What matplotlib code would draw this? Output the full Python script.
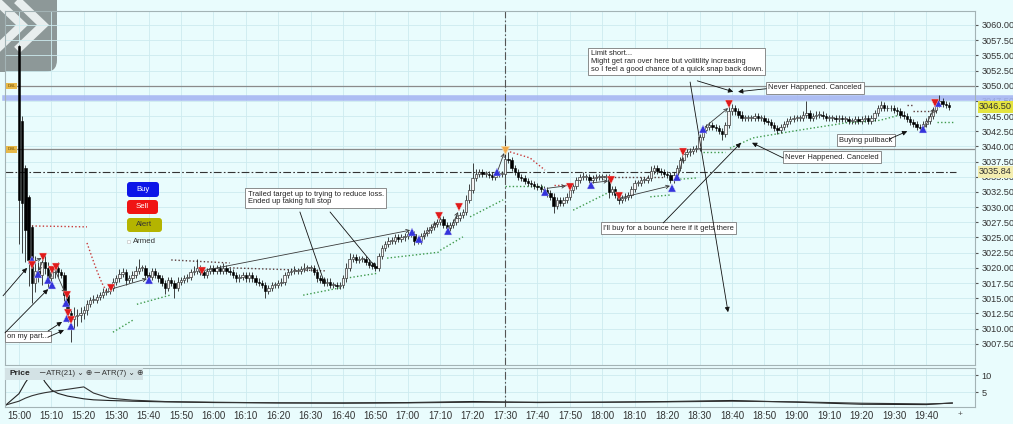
import numpy as np
import matplotlib
matplotlib.use('Agg')
import matplotlib.pyplot as plt
from matplotlib import font_manager
from matplotlib.patches import FancyBboxPatch, Rectangle
from matplotlib.lines import Line2D
import matplotlib.transforms as mtrans

names = {f.name for f in font_manager.fontManager.ttflist}
narrow = 'Liberation Sans Narrow' if 'Liberation Sans Narrow' in names else 'Liberation Sans'
plt.rcParams['font.family'] = [narrow, 'DejaVu Sans']

BG = '#e9fcfd'

# ---- 1 minute bars, 15:00 .. 19:47 (minute index from 15:00) ----
closes = np.array([
    3031.25, 3030.75, 3026.25, 3021.25, 3017.5, 3019.5, 3018.75, 3021.0, 3020.0, 3018.25,
    3019.25, 3020.0, 3019.25, 3018.75, 3015.5, 3012.5, 3011.5, 3012.0, 3012.25, 3012.5,
    3013.0, 3014.0, 3014.75, 3014.75, 3015.25, 3015.5, 3016.0, 3016.25, 3016.75, 3017.75,
    3018.25, 3019.0, 3019.25, 3018.0, 3018.25, 3018.75, 3019.5, 3020.0, 3020.0, 3018.75,
    3018.5, 3019.5, 3018.75, 3018.25, 3017.5, 3016.75, 3018.0, 3017.5, 3016.75, 3017.75,
    3018.0, 3018.25, 3018.5, 3019.25, 3019.5, 3020.0, 3019.25, 3018.75, 3019.5, 3020.0,
    3019.5, 3020.0, 3019.5, 3020.0, 3019.5, 3019.25, 3018.75, 3018.25, 3018.5, 3018.75,
    3018.25, 3018.75, 3018.25, 3017.75, 3017.5, 3017.25, 3016.25, 3016.75, 3017.25, 3017.25,
    3017.5, 3017.75, 3018.75, 3019.25, 3019.5, 3019.5, 3019.5, 3019.75, 3020.0, 3020.0,
    3020.0, 3019.25, 3018.25, 3018.0, 3017.5, 3017.75, 3017.25, 3017.25, 3017.0, 3017.25,
    3018.25, 3020.0, 3021.5, 3021.75, 3021.25, 3021.5, 3021.5, 3021.0, 3020.5, 3020.25,
    3020.0, 3022.0, 3023.25, 3024.0, 3024.5, 3024.5, 3025.0, 3024.75, 3025.0, 3025.25,
    3025.5, 3025.5, 3024.5, 3024.5, 3025.25, 3025.75, 3026.25, 3026.75, 3027.25, 3027.5,
    3028.0, 3027.0, 3026.5, 3027.0, 3027.5, 3028.25, 3028.75, 3029.25, 3031.25, 3032.75,
    3034.75, 3035.5, 3035.75, 3035.5, 3035.5, 3035.25, 3035.0, 3035.5, 3035.5, 3035.5,
    3038.0, 3037.75, 3036.5, 3035.75, 3035.0, 3034.75, 3034.25, 3034.0, 3033.75, 3033.5,
    3033.25, 3033.0, 3032.75, 3032.25, 3031.75, 3030.25, 3031.25, 3030.75, 3031.25, 3031.75,
    3032.75, 3033.5, 3034.5, 3035.0, 3035.0, 3035.0, 3034.5, 3034.75, 3035.0, 3035.0,
    3035.0, 3035.0, 3032.5, 3033.0, 3032.0, 3031.25, 3031.5, 3031.75, 3032.0, 3033.0,
    3034.0, 3034.0, 3034.5, 3034.5, 3034.75, 3036.0, 3036.5, 3036.0, 3035.75, 3035.5,
    3035.25, 3034.5, 3035.25, 3036.5, 3037.75, 3038.75, 3039.0, 3039.25, 3039.5, 3039.75,
    3041.5, 3042.75, 3043.25, 3043.5, 3043.25, 3043.0, 3042.5, 3042.0, 3043.5, 3045.75,
    3046.25, 3045.75, 3045.25, 3044.75, 3044.75, 3044.75, 3044.75, 3045.0, 3044.75, 3044.75,
    3044.25, 3044.0, 3043.5, 3043.0, 3042.75, 3043.25, 3043.75, 3044.25, 3044.5, 3044.75,
    3044.75, 3044.75, 3045.25, 3045.5, 3044.75, 3045.0, 3045.25, 3045.25, 3045.0, 3044.75,
    3044.75, 3044.75, 3044.5, 3044.75, 3044.5, 3044.5, 3044.25, 3044.25, 3044.5, 3044.25,
    3044.5, 3044.75, 3044.25, 3044.75, 3045.5, 3046.25, 3046.75, 3046.25, 3046.25, 3046.25,
    3046.0, 3045.75, 3045.25, 3045.0, 3044.5, 3044.0, 3043.75, 3043.25, 3043.0, 3043.75,
    3044.25, 3045.0, 3046.0, 3047.0, 3047.5, 3047.0, 3046.75, 3046.5,
])
# the first bars of the session open away from the previous close
first_opens = [3056.5, 3044.25, 3036.5, 3031.75, 3026.75]

upper_wick = np.array([
    .25, .75, .5, .25, .25, 2.5, 1.5, 1.0, 1.5, 1.0,
    .75, .75, 1.0, .5, .5, .5, .5, 1.5, 1.0, 1.0,
    .75, .75, .5, .75, .5, .5, .75, .5, .5, .5,
    .5, .75, .75, .5, .5, .75, .75, 1.5, .5, .5,
    .5, .5, .5, .5, .5, .5, .5, .5, .5, .75,
    .5, .5, .5, .5, .75, 1.5, .5, .5, .5, .5,
    .5, .5, .5, .75, .5, .5, .5, .5, .5, .5,
    .5, .5, .5, .5, .5, .5, .5, .5, .5, .5,
    .5, .5, .5, .5, .5, .75, .5, .5, .75, .5,
    .5, .5, .5, .5, .5, .5, .5, .5, .5, .5,
    .5, .75, 1.0, .5, .5, .5, .5, .5, .5, .5,
    .5, .5, .5, .5, .5, .5, .5, .5, .5, .5,
    .5, .5, .5, .5, .5, .5, .5, .5, .5, .5,
    .5, .5, .5, .5, .5, .5, .5, .5, .75, 1.0,
    2.5, .75, .5, .5, .5, .5, .5, .5, .5, .5,
    3.0, 1.0, .5, .5, .5, .5, .5, .5, .5, .5,
    .5, .5, .5, .5, .5, .5, .5, .5, .5, .5,
    .5, .5, .5, .5, .75, .5, .5, .5, .5, .5,
    .5, .5, .5, .5, .5, .5, .5, .5, .5, .5,
    .5, .5, .5, .5, .5, .75, .5, .5, .5, .5,
    .5, .5, .5, .5, .5, .5, .5, .5, .5, .5,
    .5, .5, .5, .5, .5, .5, .5, .5, .5, 1.25,
    .75, .5, .5, .5, .5, .5, .5, .5, .5, .5,
    .5, .5, .5, .5, .5, .5, .5, .5, .5, .5,
    .5, .5, .5, 2.0, .5, .5, .5, .5, .5, .5,
    .5, .5, .5, .5, .5, .5, .5, .5, .5, .5,
    .5, .5, .5, .5, .5, .5, .75, .5, .5, .5,
    .5, .5, .5, .5, .5, .5, .5, .5, .5, .5,
    .5, .5, .5, .5, 1.0, .5, .5, .5,
])
lower_wick = np.array([
    7.25, 8.25, 5.25, 4.25, 3.25, 1.5, 1.0, 1.5, 1.0, 1.5,
    .75, 1.0, .75, .5, 1.0, 1.5, 3.75, 1.5, 1.5, 1.25,
    1.0, .75, .5, .5, .5, .5, .5, .5, .5, .5,
    .5, .5, .5, .75, .5, .5, .5, .5, .5, .5,
    .5, .5, .5, .5, .5, 1.0, .5, .5, 1.75, .5,
    .5, .5, .5, .5, .5, .5, .5, .5, .5, .5,
    .5, .5, .5, .5, .5, .5, .5, .5, .5, .5,
    .5, .5, .5, .5, .5, .5, 1.25, .5, .5, .5,
    .5, .5, .5, .5, .5, .5, .5, .5, .5, .5,
    .5, .5, .5, .5, .5, .5, .5, .5, .5, .5,
    .5, .5, .5, .5, .5, .5, .5, .5, .5, .5,
    .5, .5, .5, .5, .5, .5, .5, .5, .5, .5,
    .5, .5, .75, .5, .5, .5, .5, .5, .5, .5,
    .5, .5, .5, .5, .5, .5, .5, .5, .5, .5,
    .5, .5, .5, .5, .5, .5, .5, .5, .5, .5,
    .5, .5, .5, .5, .5, .5, .5, .5, .5, .5,
    .5, .5, .5, .5, .5, 1.25, .5, .5, .5, .5,
    .5, .5, .5, .5, .5, .5, .5, .5, .5, .5,
    .5, .5, 1.0, .5, .5, .75, .5, .5, .5, .5,
    .5, .5, .5, .5, .5, .5, .5, .5, .5, .5,
    .5, .5, .5, .5, .5, .5, .5, .5, .5, .5,
    .5, .5, .5, .5, .5, .5, .5, 1.0, .5, .5,
    .5, .5, .5, .5, .5, .5, .5, .5, .5, .5,
    .5, .5, .5, .5, .75, .5, .5, .5, .5, .5,
    .5, .5, .5, .5, .5, .5, .5, .5, .5, .5,
    .5, .5, .5, .5, .5, .5, .5, .5, .5, .5,
    .5, .5, .5, .5, .5, .5, .5, .5, .5, .5,
    .5, .5, .5, .5, .5, .5, .5, .5, .5, .5,
    .5, .5, .5, .5, .5, .5, .5, .5,
])

# trade markers (minute, price)
buys = [(4.0, 3021.25), (5.9, 3019.0), (9.0, 3018.0), (10.2, 3017.25), (14.5, 3014.25),
        (14.8, 3011.75), (16.0, 3010.5), (40.1, 3018.0), (121.3, 3025.9), (123.5, 3024.75),
        (132.4, 3026.1), (147.5, 3035.75), (162.3, 3032.5), (176.5, 3033.6), (201.5, 3033.1),
        (203.1, 3035.0), (211.2, 3042.9), (279.0, 3042.9), (283.6, 3047.2)]
sells = [(4.0, 3020.5), (7.4, 3021.8), (10.2, 3019.6), (11.4, 3020.1), (14.8, 3015.5),
         (15.1, 3012.6), (16.0, 3011.4), (28.4, 3016.7), (56.5, 3019.5), (129.6, 3028.5),
         (135.8, 3030.0), (170.1, 3033.3), (182.7, 3034.5), (185.0, 3031.8), (205.0, 3039.1),
         (219.1, 3047.0), (282.7, 3047.2)]
alert_mark = [(150.0, 3039.4)]

trade_links = [((28.4, 3016.5), (39.5, 3018.2)), ((57.4, 3019.6), (120.7, 3026.2)),
               ((124.7, 3025.1), (129.0, 3027.5)), ((133.0, 3026.2), (135.5, 3029.2)),
               ((147.8, 3036.1), (149.7, 3038.9)), ((163.0, 3033.1), (168.8, 3033.5)),
               ((176.9, 3034.0), (181.8, 3034.3)), ((185.5, 3031.5), (200.9, 3033.5)),
               ((203.4, 3035.1), (205.0, 3038.25)), ((211.7, 3043.2), (218.8, 3046.3)),
               ((279.6, 3043.2), (282.4, 3046.3)), ((4.5, 3021.0), (7.0, 3021.6)),
               ((7.5, 3021.3), (6.0, 3019.5)), ((11.0, 3019.8), (14.3, 3015.8)),
               ((9.3, 3017.7), (10.0, 3019.2))]

# stop / target dots
red_stops = [
    [(4, 3026.9), (21, 3026.75)],
    [(21, 3024.1), (22.5, 3021.8), (24, 3019.6), (25.6, 3017.5), (27.2, 3016.0)],
    [(151.5, 3039.1), (157.7, 3038.1), (162.3, 3036.1)],
    [(165, 3033.6), (170, 3033.6)],
]
dark_stops = [
    [(47, 3021.3), (65, 3020.8)],
    [(65, 3020.0), (95, 3019.5)],
    [(176, 3034.9), (199, 3034.9)],
    [(274, 3046.75), (276, 3046.75)],
    [(276, 3045.75), (283, 3045.75)],
]
green_stops = [
    [(29, 3009.4), (35.2, 3011.4)],
    [(36.4, 3014.0), (46.6, 3015.5)],
    [(87.7, 3015.5), (99, 3016.7)],
    [(101, 3018.3), (110.5, 3019.1)],
    [(113.6, 3021.6), (130, 3022.6)],
    [(130, 3022.9), (137, 3025.1)],
    [(139.2, 3028.4), (149.4, 3031.2)],
    [(150, 3033.5), (162, 3033.5)],
    [(171, 3029.5), (181.5, 3032.3)],
    [(194.8, 3031.7), (201, 3032.0)],
    [(204, 3034.6), (209, 3034.8)],
    [(211, 3039.0), (218, 3039.0)],
    [(219.4, 3039.7), (226.5, 3041.4), (241, 3042.7), (255.5, 3043.9), (265.7, 3044.3), (272, 3045.2)],
    [(283.3, 3044.0), (288.3, 3044.0)],
]

# ATR panel
atr_min = [-4, 0, 2, 4, 6, 8, 10, 12, 15, 20, 23, 28, 35, 45, 60, 80, 100, 120, 140,
           160, 180, 200, 220, 240, 260, 280, 288]
atr7 = [1.2, 4.5, 7.8, 10.5, 11.5, 8.0, 5.6, 4.6, 3.8, 3.0, 2.7, 2.5, 2.3, 2.1, 1.9, 1.8,
        1.8, 1.9, 2.2, 1.9, 2.0, 2.2, 2.5, 2.0, 1.4, 1.3, 1.8]
atr21 = [1.2, 2.3, 3.2, 3.9, 4.4, 4.8, 5.1, 5.4, 5.8, 6.5, 4.7, 3.2, 2.6, 2.2, 2.0, 1.8,
         1.7, 1.8, 2.0, 2.0, 2.0, 2.1, 2.3, 2.1, 1.7, 1.5, 1.7]

time_ticks = list(range(0, 281, 10))
time_labels = ['15:00', '15:10', '15:20', '15:30', '15:40', '15:50', '16:00', '16:10', '16:20',
               '16:30', '16:40', '16:50', '17:00', '17:10', '17:20', '17:30', '17:40', '17:50',
               '18:00', '18:10', '18:20', '18:30', '18:40', '18:50', '19:00', '19:10', '19:20',
               '19:30', '19:40']
price_ticks = np.arange(3007.5, 3060.01, 2.5)

line_3050 = 3050.0
line_3040 = 3039.5
blue_band = 3047.9
dashdot_level = 3035.84
last_price = 3046.50
split_time = 150

# ---------------------------------------------------------------------
W, H = 1013, 424
fig = plt.figure(figsize=(W / 100, H / 100), dpi=100, facecolor=BG)
ax = fig.add_axes([5 / W, 1 - 365 / H, 970 / W, 354 / H])
ax2 = fig.add_axes([5 / W, 1 - 407 / H, 970 / W, 39 / H], sharex=ax)
for a in (ax, ax2):
    a.set_facecolor('none')
    for s in a.spines.values():
        s.set_color('#a3b3b5')
        s.set_linewidth(0.8)
    a.grid(True, color='#cdebef', lw=0.6)
    a.set_axisbelow(True)

ax.set_xlim(-4.3, 295)
ax.set_ylim(3004.0, 3062.3)
ax.yaxis.tick_right()
ax.set_yticks(price_ticks)
ax.set_yticklabels(['%.2f' % v for v in price_ticks])
ax.tick_params(axis='y', labelsize=6.6, colors='#555', labelcolor='#333', length=2.5, pad=2)
ax.set_xticks(time_ticks)
ax.tick_params(axis='x', labelbottom=False, length=0)

# top-left toolbar tab (behind the chart)
tab = FancyBboxPatch((-0.3, 3.52), 0.87, 1.0, boxstyle='round,pad=0,rounding_size=0.12',
                     transform=fig.dpi_scale_trans, fc='#8d9898', ec='none', zorder=-2)
fig.patches.append(tab)
for dx in (-0.21, 0.0):
    fig.lines.append(Line2D([0.20 + dx, 0.43 + dx, 0.20 + dx], [4.21, 3.99, 3.77],
                            transform=fig.dpi_scale_trans, color='#e8eeee', lw=6,
                            solid_joinstyle='miter', zorder=-1))

# reference lines
ax.axhline(line_3050, color='#8a8a8a', lw=0.9, zorder=1)
ax.axhline(line_3040, color='#8a8a8a', lw=0.9, zorder=1)
ax.axhline(blue_band, color='#a7b6f2', lw=4, zorder=1, xmax=1.04, clip_on=False, alpha=0.9)
ax.plot([-4.3, 289], [dashdot_level] * 2, color='#333', lw=0.8, ls=(0, (7, 2, 1.5, 2)), zorder=1)
for a in (ax, ax2):
    a.axvline(split_time, color='#555', lw=0.8, ls=(0, (7, 2, 1.5, 2)), zorder=1)
for lv in (line_3050, line_3040):
    ax.text(-3.5, lv, 'DSL', fontsize=3.2, color='#6b4a00', va='center', ha='left',
            bbox=dict(boxstyle='square,pad=0.25', fc='#e7b949', ec='none'), zorder=4)

# stop dots
for seg in red_stops:
    xs, ys = zip(*seg)
    ax.plot(xs, ys, color='#c83a3a', lw=1.0, ls=(0, (1, 1.6)), zorder=2)
for seg in dark_stops:
    xs, ys = zip(*seg)
    ax.plot(xs, ys, color='#5a3a3a', lw=1.0, ls=(0, (1, 1.6)), zorder=2)
for seg in green_stops:
    xs, ys = zip(*seg)
    ax.plot(xs, ys, color='#3f9a4c', lw=1.0, ls=(0, (1, 1.6)), zorder=2)

# candles
x = np.arange(len(closes))
opens = np.r_[first_opens, closes[len(first_opens) - 1:-1]]
highs = np.maximum(opens, closes) + upper_wick
lows = np.minimum(opens, closes) - lower_wick
up = closes >= opens
ax.vlines(x, lows, highs, color='#222', lw=0.6, zorder=3)
ax.bar(x[up], np.maximum(closes[up] - opens[up], 0.12), bottom=opens[up], width=0.75,
       color='#f3f3f3', edgecolor='#3a3a3a', lw=0.5, zorder=3.5)
ax.bar(x[~up], opens[~up] - closes[~up], bottom=closes[~up], width=0.75,
       color='#000', edgecolor='#000', lw=0.4, zorder=3.5)

# trade links and markers
for (x0, y0), (x1, y1) in trade_links:
    ax.annotate('', xy=(x1, y1), xytext=(x0, y0),
                arrowprops=dict(arrowstyle='->', color='#3a3a3a', lw=0.6, mutation_scale=6,
                                shrinkA=0, shrinkB=0), zorder=4)
bx, by = zip(*buys)
ax.plot(bx, by, ls='none', marker='^', ms=5.5, color='#3434dc', mec='#c8c8f0', mew=0.3, zorder=6)
sx, sy = zip(*sells)
ax.plot(sx, sy, ls='none', marker='v', ms=5.5, color='#e01a1a', mec='#f0c8c8', mew=0.3, zorder=6)
ox, oy = zip(*alert_mark)
ax.plot(ox, oy, ls='none', marker='v', ms=6, color='#f0a848', mec='#f6d8a0', mew=0.6, zorder=6)

# notes
note_kw = dict(fontsize=5.4, va='top', ha='left', color='#222', linespacing=1.15, zorder=7,
               bbox=dict(boxstyle='square,pad=0.3', fc='white', ec='#7a7a7a', lw=0.6))
ax.text(70.6, 3032.7, 'Trailed target up to trying to reduce loss.\nEnded up taking full stop', **note_kw)
ax.text(-3.7, 3009.3, 'on my part...', clip_on=False, **note_kw)
ax.text(180.2, 3027.1, "I'll buy for a bounce here if it gets there", **note_kw)
ax.text(176.4, 3055.8, 'Limit short...\nMight get ran over here but volitility increasing\n'
        'so I feel a good chance of a quick snap back down.', **note_kw)
ax.text(231.2, 3050.2, 'Never Happened. Canceled', **note_kw)
ax.text(236.4, 3038.8, 'Never Happened. Canceled', **note_kw)
ax.text(253.1, 3041.6, 'Buying pullback', **note_kw)

note_arrows = [((86.7, 3029.2), (94.4, 3017.3)), ((96.0, 3029.2), (110.2, 3020.0)),
               ((198.8, 3027.4), (222.8, 3040.6)), ((235.8, 3038.1), (226.2, 3040.6)),
               ((209.3, 3050.8), (220.4, 3049.0)), ((207.1, 3050.6), (218.8, 3012.7)),
               ((230.6, 3049.5), (221.9, 3049.0)), ((268.5, 3041.2), (274.1, 3042.5)),
               ((-4.9, 3015.4), (2.5, 3020.0)), ((-4.3, 3009.3), (9.0, 3016.5)),
               ((9.0, 3009.6), (13.3, 3011.1)), ((9.0, 3008.6), (13.9, 3009.75))]
for (x0, y0), (x1, y1) in note_arrows:
    ax.annotate('', xy=(x1, y1), xytext=(x0, y0), annotation_clip=False,
                arrowprops=dict(arrowstyle='-|>', color='#111', lw=0.6, mutation_scale=7,
                                shrinkA=0, shrinkB=0), zorder=7)

# price flags on the axis
tr = mtrans.blended_transform_factory(ax.transAxes, ax.transData)
ax.text(1.004, last_price, '%.2f' % last_price, transform=tr, fontsize=6.6, color='#333',
        va='center', ha='left', clip_on=False, zorder=8,
        bbox=dict(boxstyle='square,pad=0.15', fc='#e4e440', ec='none'))
ax.text(1.004, dashdot_level, '%.2f' % dashdot_level, transform=tr, fontsize=6.6, color='#333',
        va='center', ha='left', clip_on=False, zorder=8,
        bbox=dict(boxstyle='square,pad=0.15', fc='#f4eeb0', ec='none'))

# order buttons
def button(x0, y0, w, h, fc, label, tc):
    fig.patches.append(FancyBboxPatch((x0, y0), w, h, boxstyle='round,pad=0,rounding_size=0.03',
                                      transform=fig.dpi_scale_trans, fc=fc, ec='none', zorder=5))
    fig.text(x0 + w / 2, y0 + h / 2, label, transform=fig.dpi_scale_trans, fontsize=5.6,
             color=tc, ha='center', va='center', zorder=6)

button(1.27, 2.27, 0.32, 0.15, '#0d16e8', 'Buy', 'white')
button(1.27, 2.10, 0.31, 0.14, '#f01414', 'Sell', 'white')
button(1.27, 1.92, 0.35, 0.14, '#b4b400', 'Alert', '#333')
fig.patches.append(Rectangle((1.27, 1.81), 0.03, 0.03, transform=fig.dpi_scale_trans,
                             fc='white', ec='#bbb', lw=0.4))
fig.text(1.33, 1.825, 'Armed', transform=fig.dpi_scale_trans, fontsize=5.6, color='#333',
         va='center', ha='left')

# ATR panel
ax2.plot(atr_min, atr7, color='#222', lw=0.8)
ax2.plot(atr_min, atr21, color='#333', lw=0.8)
ax2.set_ylim(0.59, 12.06)
ax2.yaxis.tick_right()
ax2.set_yticks([5, 10])
ax2.set_yticklabels(['5', '10'])
ax2.tick_params(axis='y', labelsize=6.6, labelcolor='#333', colors='#555', length=2.5, pad=2)
ax2.set_xticks(time_ticks)
ax2.set_xticklabels(time_labels)
ax2.tick_params(axis='x', labelsize=7, labelcolor='#333', length=0, pad=3)
ax2.text(290.5, -0.5, '+', fontsize=6, color='#555', ha='center', va='top', clip_on=False)
ax2.add_patch(Rectangle((0, 0.70), 0.142, 0.30, transform=ax2.transAxes, fc='#d3e2e5',
                        ec='none', zorder=3))
ax2.text(0.005, 0.85, 'Price', transform=ax2.transAxes, fontsize=6, fontweight='bold',
         color='#222', va='center', ha='left', zorder=4)
ax2.text(0.035, 0.85, '\u2500 ATR(21) \u2304 \u2295 \u2500 ATR(7) \u2304 \u2295', transform=ax2.transAxes,
         fontsize=5.6, color='#333', va='center', ha='left', zorder=4, family=[narrow, 'DejaVu Sans'])

fig.savefig('out.png', dpi=100, facecolor=BG)
